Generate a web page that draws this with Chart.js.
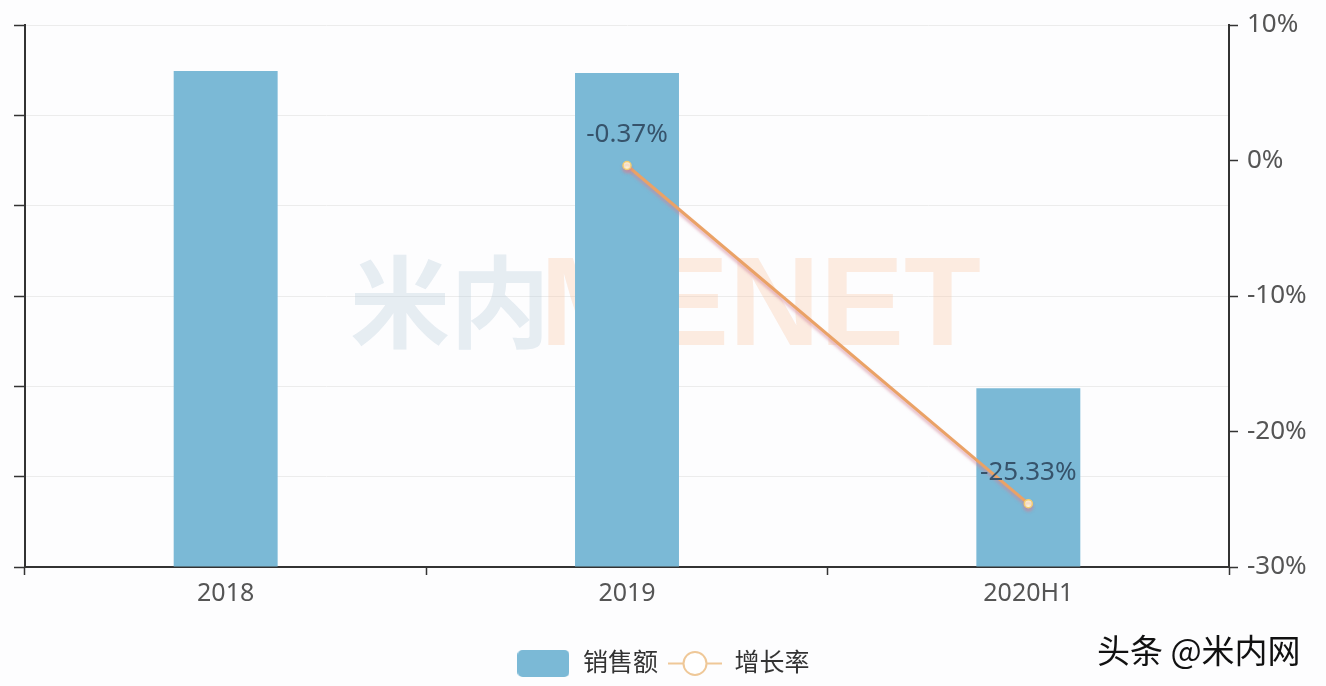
<!DOCTYPE html>
<html><head><meta charset="utf-8">
<script src="https://cdn.jsdelivr.net/npm/chart.js@4.4.0/dist/chart.umd.min.js"></script>
<style>html,body{margin:0;padding:0;background:#fdfdfe;}#wrap{width:1326px;height:686px;}</style>
</head><body><div id="wrap"><canvas id="c" width="1326" height="686"></canvas></div>
<script>
const categories = ['2018', '2019', '2020H1'];
const salesValues = [54.9, 54.7, 19.8];
const growthRates = [null, -0.37, -25.33];
const seriesNames = ['销售额', '增长率'];
const leftTicks = [0, 10, 20, 30, 40, 50, 60];
const rightTicks = [-30, -20, -10, 0, 10];

const FONT = '"Noto Sans", "Noto Sans CJK SC", sans-serif';
const BAR_COLOR = '#7bb9d6';
const LINE_COLOR = '#eaa266';

function makeBarIcon() {
  const c = document.createElement('canvas'); c.width = 52; c.height = 27;
  const x = c.getContext('2d'); x.fillStyle = BAR_COLOR;
  x.beginPath(); x.roundRect(0, 0, 52, 27, 5); x.fill(); return c;
}
function makeLineIcon() {
  const c = document.createElement('canvas'); c.width = 54; c.height = 27;
  const x = c.getContext('2d'); x.strokeStyle = '#efc898'; x.lineWidth = 2;
  x.beginPath(); x.moveTo(0, 13.5); x.lineTo(54, 13.5); x.stroke();
  x.fillStyle = '#fff'; x.beginPath(); x.arc(27, 13.5, 11.5, 0, Math.PI * 2); x.fill(); x.stroke();
  return c;
}
const barIcon = makeBarIcon(), lineIcon = makeLineIcon();

const watermark = {
  id: 'watermark',
  beforeDatasetsDraw(chart) {
    const ctx = chart.ctx; ctx.save();
    ctx.textBaseline = 'alphabetic';
    ctx.font = 'bold 100px "Noto Sans CJK SC", sans-serif';
    ctx.fillStyle = 'rgba(185,205,220,0.35)';
    ctx.fillText('米内', 350, 340);
    ctx.font = 'bold 126px "Liberation Sans", sans-serif';
    ctx.fillStyle = 'rgba(248,200,170,0.35)';
    ctx.fillText('MENET', 540, 345);
    ctx.restore();
  }
};
const lineShadow = {
  id: 'lineShadow',
  beforeDatasetDraw(chart, args) {
    if (args.index === 1) { const c = chart.ctx; c.save(); c.shadowColor = 'rgba(210,130,150,0.6)'; c.shadowBlur = 3; c.shadowOffsetY = 3; }
  },
  afterDatasetDraw(chart, args) { if (args.index === 1) chart.ctx.restore(); }
};
const dataLabels = {
  id: 'dataLabels',
  afterDatasetsDraw(chart) {
    const meta = chart.getDatasetMeta(1); const ctx = chart.ctx; ctx.save();
    ctx.font = '26px ' + FONT; ctx.fillStyle = '#36536b'; ctx.textAlign = 'center'; ctx.textBaseline = 'middle';
    meta.data.forEach((pt, i) => {
      const v = growthRates[i]; if (v === null) return;
      ctx.fillText(v.toFixed(2) + '%', pt.x, pt.y - 31);
    });
    ctx.restore();
  }
};
const credit = {
  id: 'credit',
  afterDraw(chart) {
    const ctx = chart.ctx; ctx.save();
    ctx.font = '33px "Noto Sans CJK SC", sans-serif'; ctx.fillStyle = '#111'; ctx.textBaseline = 'middle';
    ctx.fillText('头条 @米内网', 1097, 650); ctx.restore();
  }
};

new Chart(document.getElementById('c'), {
  data: {
    labels: categories,
    datasets: [
      { type: 'bar', label: seriesNames[0], data: salesValues, backgroundColor: BAR_COLOR, yAxisID: 'y',
        categoryPercentage: 1, barPercentage: 0.259, order: 1 },
      { type: 'line', label: seriesNames[1], data: growthRates, yAxisID: 'y1', borderColor: LINE_COLOR, borderWidth: 3,
        pointRadius: 4, pointBackgroundColor: '#fff8d8', pointBorderColor: '#f3cc70', pointBorderWidth: 1.5,
        spanGaps: false, tension: 0, order: 0 }
    ]
  },
  options: {
    responsive: false, animation: false,
    layout: { padding: { top: 25, left: 0, right: 0, bottom: 0 } },
    plugins: {
      tooltip: { enabled: false },
      legend: {
        position: 'bottom',
        labels: {
          usePointStyle: true, pointStyleWidth: 54, boxHeight: 27, padding: 10,
          font: { size: 25, family: FONT }, color: '#333',
          generateLabels() {
            return [
              { text: seriesNames[0], pointStyle: barIcon, datasetIndex: 0, hidden: false, lineWidth: 0, fontColor: '#333' },
              { text: seriesNames[1], pointStyle: lineIcon, datasetIndex: 1, hidden: false, lineWidth: 0, fontColor: '#333' }
            ];
          }
        }
      }
    },
    scales: {
      x: {
        offset: true,
        grid: { offset: true, drawOnChartArea: false, tickLength: 8, tickColor: '#333', tickWidth: 1.5 },
        border: { color: '#333', width: 2 },
        ticks: { font: { size: 25, family: FONT }, color: '#555', padding: 4 },
        afterFit(s) { s.height = 74; }
      },
      y: {
        position: 'left', min: leftTicks[0], max: leftTicks[leftTicks.length - 1],
        ticks: { stepSize: 10, display: false },
        grid: { color: '#ececec', tickColor: '#333', tickLength: 11, tickWidth: 1.5 },
        border: { color: '#333', width: 2 },
        afterFit(s) { s.width = 25; }
      },
      y1: {
        position: 'right', min: rightTicks[0], max: rightTicks[rightTicks.length - 1],
        ticks: { stepSize: 10, font: { size: 26, family: FONT }, color: '#555', padding: 9, callback: v => v + '%' },
        grid: { drawOnChartArea: false, tickColor: '#333', tickLength: 9, tickWidth: 1.5 },
        border: { color: '#333', width: 2 },
        afterFit(s) { s.width = 97; }
      }
    }
  },
  plugins: [watermark, lineShadow, dataLabels, credit]
});
</script></body></html>
